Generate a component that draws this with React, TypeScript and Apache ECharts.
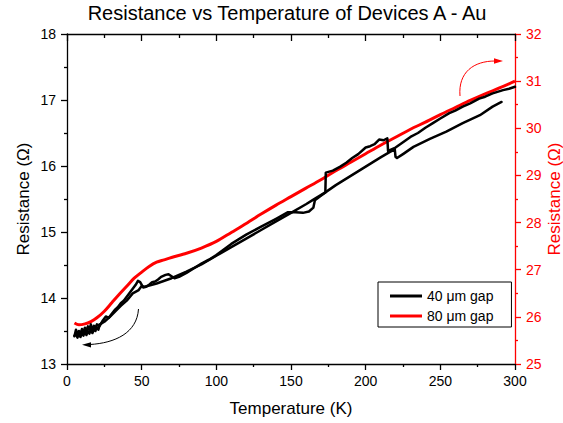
import React, { useEffect, useRef } from 'react';
import * as echarts from 'echarts';

const FONT = '"Liberation Sans", Arial, Helvetica, sans-serif';

const TITLE = 'Resistance vs Temperature of Devices A - Au';
const X_NAME = 'Temperature (K)';
const Y_NAME = 'Resistance (Ω)';
const LEGEND_40 = '40 μm gap';
const LEGEND_80 = '80 μm gap';

// x axis (K)
const X_MIN = 0;
const X_MAX = 300;
const X_STEP = 50;
// left axis (Ω), 40 µm gap
const YL_MIN = 13;
const YL_MAX = 18;
const YL_STEP = 1;
// right axis (Ω), 80 µm gap
const YR_MIN = 25;
const YR_MAX = 32;
const YR_STEP = 1;

// 40 µm gap – warming sweep (left axis)
const tempUp = [5, 6, 7, 8, 9, 10, 11, 12, 13, 14, 15, 16, 17, 18, 19, 20,
  22, 24, 26, 28, 30, 32, 34, 36, 38, 40, 42, 44, 46,
  47.5, 49, 51, 53, 55, 57, 59, 61, 63,
  66, 68, 70, 72, 75, 80, 85, 90, 95, 100,
  110, 120, 130, 140, 148, 153, 158, 162, 165, 166, 170, 173, 173.3,
  178, 183, 187, 191, 195, 198.5, 200, 203, 206, 209, 212, 214.5, 215,
  220, 225, 230, 235, 240, 245, 250, 256, 260, 265, 270, 276, 280, 285, 292, 296, 300];
const resUp = [13.42, 13.52, 13.44, 13.5, 13.46, 13.53, 13.48, 13.55, 13.5, 13.57, 13.52, 13.6, 13.48, 13.58, 13.55, 13.6,
  13.58, 13.66, 13.72, 13.7, 13.76, 13.82, 13.86, 13.92, 13.96, 14.02, 14.08, 14.14, 14.2,
  14.26, 14.24, 14.16, 14.17, 14.2, 14.24, 14.25, 14.28, 14.32,
  14.35, 14.36, 14.33, 14.3, 14.32, 14.38, 14.45, 14.52, 14.58, 14.65,
  14.82, 14.96, 15.08, 15.2, 15.3, 15.3, 15.29, 15.31, 15.37, 15.48, 15.55, 15.6, 15.9,
  15.93, 15.99, 16.05, 16.12, 16.18, 16.25, 16.28, 16.3, 16.33, 16.4, 16.39, 16.42, 16.23,
  16.28, 16.36, 16.44, 16.5, 16.58, 16.65, 16.72, 16.8, 16.84, 16.9, 16.95, 17.02, 17.05, 17.1, 17.15, 17.17, 17.2];

// 40 µm gap – cooling sweep (left axis)
const tempDown = [291, 285, 276.5, 265, 254, 243, 232, 225, 221, 220,
  219.5, 216, 210, 200, 190, 180, 173, 165, 160, 150,
  140, 130, 120, 110, 100, 90, 80, 70, 60, 52,
  50, 48, 44, 40, 36, 32, 28, 25, 22, 21,
  20, 19, 18, 17, 16, 15, 14, 13, 12, 11,
  10, 9, 8, 7, 6, 5];
const resDown = [16.97, 16.9, 16.77, 16.65, 16.52, 16.41, 16.29, 16.18, 16.12, 16.14,
  16.25, 16.21, 16.13, 15.99, 15.85, 15.71, 15.6, 15.49, 15.42, 15.29,
  15.16, 15.03, 14.9, 14.77, 14.64, 14.51, 14.4, 14.3, 14.22, 14.17,
  14.18, 14.12, 14.07, 13.96, 13.88, 13.79, 13.7, 13.64, 13.6, 13.52,
  13.56, 13.5, 13.53, 13.47, 13.52, 13.46, 13.5, 13.44, 13.49, 13.43,
  13.47, 13.41, 13.46, 13.4, 13.45, 13.43];

// 80 µm gap (right axis)
const tempRed = [5, 8, 12, 16, 20, 25, 30, 35, 40, 45, 50, 55, 60, 65, 70, 80, 90, 100, 110, 120,
  130, 140, 150, 160, 170, 180, 190, 200, 210, 220, 230, 240, 250, 260, 270, 280, 290, 300];
const resRed = [25.87, 25.83, 25.85, 25.9, 25.98, 26.12, 26.3, 26.48, 26.65, 26.82, 26.95, 27.07, 27.16, 27.21, 27.26, 27.35, 27.46, 27.6, 27.79, 27.98,
  28.18, 28.37, 28.55, 28.73, 28.91, 29.1, 29.28, 29.46, 29.64, 29.81, 29.98, 30.13, 30.29, 30.44, 30.59, 30.73, 30.86, 31.0];

const BLACK = '#000000';
const RED = '#ff0000';

const zip = (xs: number[], ys: number[]) => xs.map((x, i) => [x, ys[i]]);

function axisCommon(color: string) {
  return {
    type: 'value' as const,
    axisLine: { show: true, onZero: false, lineStyle: { color, width: 1.3 } },
    axisTick: { show: true, length: 6, lineStyle: { color, width: 1.3 } },
    minorTick: { show: true, splitNumber: 2, length: 3, lineStyle: { color, width: 1.3 } },
    splitLine: { show: false },
    minorSplitLine: { show: false },
    axisLabel: { fontSize: 14, color, fontFamily: FONT },
    nameTextStyle: { fontSize: 17, color, fontFamily: FONT },
    nameMoveOverlap: false,
  };
}

export default function App() {
  const ref = useRef<HTMLDivElement>(null);

  useEffect(() => {
    if (!ref.current) return;
    const chart = echarts.init(ref.current, undefined, { renderer: 'svg' });
    const option = {
      animation: false,
      backgroundColor: '#ffffff',
      textStyle: { fontFamily: FONT },
      title: {
        text: TITLE,
        left: 287,
        top: 3,
        textAlign: 'center',
        padding: 0,
        textStyle: { fontSize: 20, fontWeight: 'normal', color: BLACK, fontFamily: FONT },
      },
      grid: { left: 67, right: 48, top: 34, bottom: 59, containLabel: false, outerBoundsMode: 'none' },
      legend: {
        data: [{ name: LEGEND_40 }, { name: LEGEND_80 }],
        orient: 'vertical',
        left: 378,
        top: 282,
        padding: [6, 18, 3, 12],
        itemWidth: 32,
        itemHeight: 3,
        itemGap: 4,
        icon: 'rect',
        borderColor: BLACK,
        borderWidth: 1,
        borderRadius: 0,
        backgroundColor: '#ffffff',
        selectedMode: false,
        textStyle: { fontSize: 14, color: BLACK, lineHeight: 16, fontFamily: FONT },
      },
      xAxis: [
        {
          ...axisCommon(BLACK),
          position: 'bottom',
          min: X_MIN,
          max: X_MAX,
          interval: X_STEP,
          name: X_NAME,
          nameLocation: 'middle',
          nameGap: 36,
          axisLabel: { fontSize: 14, color: BLACK, fontFamily: FONT, margin: 10 },
        },
        {
          ...axisCommon(BLACK),
          position: 'top',
          min: X_MIN,
          max: X_MAX,
          interval: X_STEP,
          axisTick: { show: true, inside: true, length: 7, lineStyle: { color: BLACK, width: 1.3 } },
          minorTick: { show: true, splitNumber: 2, length: 4, lineStyle: { color: BLACK, width: 1.3 } },
          axisLabel: { show: false },
        },
      ],
      yAxis: [
        {
          ...axisCommon(BLACK),
          position: 'left',
          min: YL_MIN,
          max: YL_MAX,
          interval: YL_STEP,
          name: Y_NAME,
          nameLocation: 'middle',
          nameRotate: 90,
          nameGap: 35,
          axisLabel: { fontSize: 14, color: BLACK, fontFamily: FONT, margin: 11 },
        },
        {
          ...axisCommon(RED),
          position: 'right',
          min: YR_MIN,
          max: YR_MAX,
          interval: YR_STEP,
          name: Y_NAME,
          nameLocation: 'middle',
          nameRotate: 90,
          nameGap: 31,
          axisLabel: { fontSize: 14, color: RED, fontFamily: FONT, margin: 11 },
        },
      ],
      series: [
        {
          name: LEGEND_80,
          type: 'line',
          xAxisIndex: 0,
          yAxisIndex: 1,
          data: zip(tempRed, resRed),
          showSymbol: false,
          symbol: 'none',
          smooth: 0.3,
          color: RED,
          lineStyle: { color: RED, width: 3 },
          z: 2,
        },
        {
          name: LEGEND_40,
          type: 'line',
          xAxisIndex: 0,
          yAxisIndex: 0,
          data: zip(tempUp, resUp),
          showSymbol: false,
          symbol: 'none',
          color: BLACK,
          lineStyle: { color: BLACK, width: 2.5, join: 'round', cap: 'round' },
          z: 3,
        },
        {
          name: LEGEND_40,
          type: 'line',
          xAxisIndex: 0,
          yAxisIndex: 0,
          data: zip(tempDown, resDown),
          showSymbol: false,
          symbol: 'none',
          color: BLACK,
          lineStyle: { color: BLACK, width: 2.5, join: 'round', cap: 'round' },
          z: 3,
        },
      ],
      graphic: [
        {
          type: 'bezierCurve',
          silent: true,
          shape: { x1: 138.5, y1: 309, cpx1: 137, cpy1: 333, cpx2: 115, cpy2: 343, x2: 90, y2: 344.5 },
          style: { stroke: BLACK, lineWidth: 1, fill: 'none' },
          z: 10,
        },
        {
          type: 'polygon',
          silent: true,
          shape: { points: [[82, 344.8], [91, 342.2], [91, 347.4]] },
          style: { fill: BLACK },
          z: 10,
        },
        {
          type: 'bezierCurve',
          silent: true,
          shape: { x1: 460, y1: 96, cpx1: 458, cpy1: 72, cpx2: 474, cpy2: 61, x2: 495, y2: 61 },
          style: { stroke: RED, lineWidth: 1, fill: 'none' },
          z: 10,
        },
        {
          type: 'polygon',
          silent: true,
          shape: { points: [[503, 61], [494, 58.2], [494, 63.8]] },
          style: { fill: RED },
          z: 10,
        },
      ],
    };
    chart.setOption(option as any);
    return () => {
      chart.dispose();
    };
  }, []);

  return (
    <div
      ref={ref}
      style={{ position: 'absolute', left: 0, top: 0, width: 563, height: 423, background: '#fff' }}
    />
  );
}
